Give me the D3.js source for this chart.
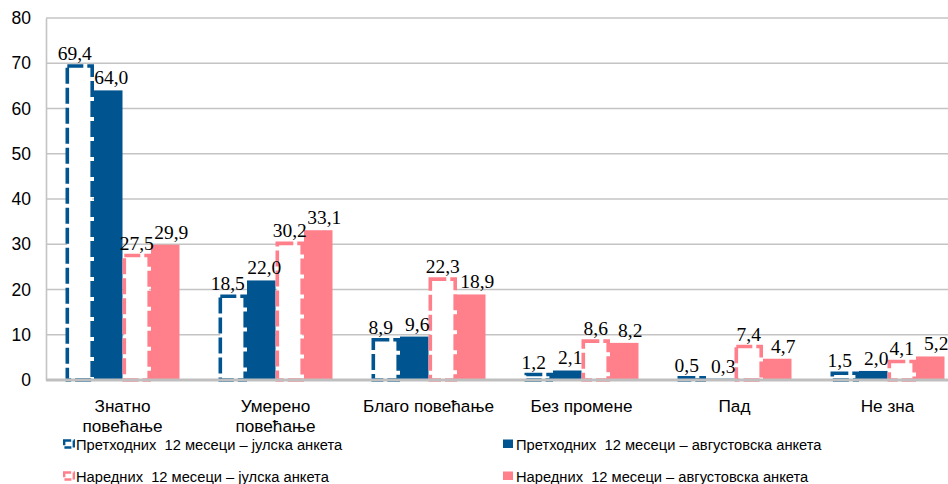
<!DOCTYPE html>
<html>
<head>
<meta charset="utf-8">
<script src="https://cdn.jsdelivr.net/npm/d3@7"></script>
<style>
  html, body { margin: 0; padding: 0; background: #fff; }
  svg { display: block; }
</style>
</head>
<body>
<svg id="chart" width="948" height="484"></svg>
<script>
// ---- data ----
const categories = [["Знатно", "повећање"], ["Умерено", "повећање"], ["Благо повећање"], ["Без промене"], ["Пад"], ["Не зна"]];
const seriesNames = [
  "Претходних  12 месеци – јулска анкета",
  "Претходних  12 месеци – августовска анкета",
  "Наредних  12 месеци – јулска анкета",
  "Наредних  12 месеци – августовска анкета"
];
const prevJuly = [69.4, 18.5, 8.9, 1.2, 0.5, 1.5];
const prevAug  = [64.0, 22.0, 9.6, 2.1, 0.3, 2.0];
const nextJuly = [27.5, 30.2, 22.3, 8.6, 7.4, 4.1];
const nextAug  = [29.9, 33.1, 18.9, 8.2, 4.7, 5.2];
const yTicks = [0, 10, 20, 30, 40, 50, 60, 70, 80];

// ---- styles ----
const BLUE = "#00548f", PINK = "#ff7f8b";
const seriesStyle = [
  { color: BLUE, dashed: true,  dx: -5 },
  { color: BLUE, dashed: false, dx: 3 },
  { color: PINK, dashed: true,  dx: 0 },
  { color: PINK, dashed: false, dx: 6 }
];
const series = [prevJuly, prevAug, nextJuly, nextAug];

const svg = d3.select("#chart");
const plotL = 46, plotR = 964, plotT = 18, plotB = 380;

const y = d3.scaleLinear().domain([0, 80]).range([plotB, plotT]);
const x0 = d3.scaleBand().domain(d3.range(categories.length)).range([plotL, plotR])
  .paddingInner(0.255).paddingOuter(0.1275);
const x1 = d3.scaleBand().domain(d3.range(series.length)).range([0, x0.bandwidth()]);

// gridlines
svg.append("g").selectAll("line").data(yTicks.filter(t => t > 0)).join("line")
  .attr("x1", plotL).attr("x2", plotR)
  .attr("y1", d => y(d)).attr("y2", d => y(d))
  .attr("stroke", "#c4c4c4").attr("stroke-width", 1.6);

// y axis
const yAxis = svg.append("g").attr("transform", `translate(${plotL},0)`)
  .call(d3.axisLeft(y).tickValues(yTicks).tickSize(0).tickPadding(15));
yAxis.select(".domain").attr("stroke", "#c4c4c4").attr("stroke-width", 1.6);
yAxis.selectAll("text").attr("font-family", "Liberation Sans, Arial, sans-serif")
  .attr("font-size", 17.5).attr("fill", "#000");

// bars
series.forEach((vals, si) => {
  const st = seriesStyle[si];
  const g = svg.append("g");
  const sw = 3.6;
  g.selectAll("rect").data(vals).join("rect")
    .attr("x", (d, i) => x0(i) + x1(si) + (st.dashed ? sw / 2 : 0))
    .attr("width", x1.bandwidth() - (st.dashed ? sw : 0))
    .attr("y", d => y(d))
    .attr("height", d => y(0) - y(d))
    .attr("fill", st.dashed ? "#fff" : st.color)
    .attr("stroke", st.dashed ? st.color : "none")
    .attr("stroke-width", st.dashed ? sw : 0)
    .attr("stroke-dasharray", st.dashed ? "16,4" : null);
});

// x axis line
svg.append("line").attr("x1", plotL).attr("x2", plotR)
  .attr("y1", plotB).attr("y2", plotB)
  .attr("stroke", "#bfbfbf").attr("stroke-width", 3);

// data labels
series.forEach((vals, si) => {
  const st = seriesStyle[si];
  svg.append("g").selectAll("text").data(vals).join("text")
    .attr("x", (d, i) => x0(i) + x1(si) + x1.bandwidth() / 2 + st.dx)
    .attr("y", d => y(d) - 6)
    .attr("text-anchor", "middle")
    .attr("font-family", "Liberation Serif, Times New Roman, serif")
    .attr("font-size", 19.5).attr("fill", "#000")
    .text(d => d.toFixed(1).replace(".", ","));
});

// category labels
const cat = svg.append("g").selectAll("text").data(categories).join("text")
  .attr("x", (d, i) => x0(i) + x0.bandwidth() / 2)
  .attr("y", 412)
  .attr("text-anchor", "middle")
  .attr("font-family", "Liberation Sans, Arial, sans-serif")
  .attr("font-size", 17.2).attr("fill", "#000");
cat.selectAll("tspan").data(d => d).join("tspan")
  .attr("x", function () { return d3.select(this.parentNode).attr("x"); })
  .attr("dy", (d, i) => i === 0 ? 0 : 20)
  .text(d => d);

// legend
const legendPos = [[63, 445], [503, 445], [63, 477], [503, 477]];
seriesNames.forEach((name, si) => {
  const st = seriesStyle[si];
  const [lx, ly] = legendPos[si];
  const g = svg.append("g").attr("transform", `translate(${lx},${ly})`);
  if (st.dashed) {
    g.append("rect").attr("x", 1.2).attr("y", -4.5).attr("width", 9.6).attr("height", 7)
      .attr("fill", "#fff").attr("stroke", st.color).attr("stroke-width", 2.4)
      .attr("stroke-dasharray", "7,2.5");
  } else {
    g.append("rect").attr("x", 0).attr("y", -5.5).attr("width", 10).attr("height", 8.5)
      .attr("fill", st.color);
  }
  g.append("text").attr("x", 13).attr("y", 5)
    .attr("font-family", "Liberation Sans, Arial, sans-serif")
    .attr("font-size", 14.7).attr("fill", "#000")
    .style("white-space", "pre")
    .text(name);
});
</script>
</body>
</html>
